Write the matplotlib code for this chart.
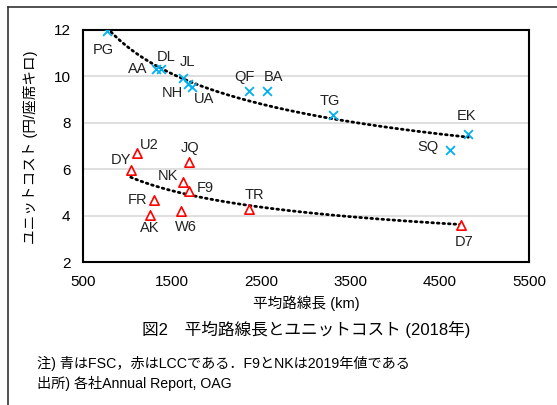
import numpy as np
import matplotlib
matplotlib.use("Agg")
import matplotlib.pyplot as plt
from matplotlib.lines import Line2D

plt.rcParams['font.family'] = ['Liberation Sans', 'Noto Sans CJK JP']

# FSC (blue)
fsc_names = ["PG", "AA", "DL", "JL", "NH", "UA", "QF", "BA", "TG", "EK", "SQ"]
fsc_len = [772, 1320, 1370, 1618, 1681, 1718, 2364, 2559, 3306, 4819, 4614]
fsc_cost = [11.95, 10.3, 10.3, 9.92, 9.66, 9.56, 9.37, 9.37, 8.32, 7.53, 6.82]
fsc_off = [(-4, -19), (-18, 0), (6, 12), (5, 16), (-16, -9), (12, -12),
           (-5, 14), (7, 14), (-4, 14), (-2, 18), (-22, 3)]

# LCC (red)
lcc_names = ["U2", "DY", "JQ", "NK", "F9", "FR", "AK", "W6", "TR", "D7"]
lcc_len = [1105, 1035, 1688, 1625, 1688, 1296, 1251, 1595, 2361, 4734]
lcc_cost = [6.68, 5.98, 6.3, 5.43, 5.04, 4.68, 4.03, 4.21, 4.28, 3.6]
lcc_off = [(12, 8), (-10, 10), (1, 14), (-15, 6), (16, 3), (-16, 0),
           (0, -13), (5, -16), (5, 14), (3, -17)]

blue = "#00B0F0"
red = "#FF0000"

fig = plt.figure(figsize=(5.57, 4.05), dpi=100)
ax = fig.add_axes([0.149, 0.353, 0.801, 0.573])


def power_fit(x, y):
    x = np.asarray(x, float)
    y = np.asarray(y, float)
    b, a = np.polyfit(np.log(x), np.log(y), 1)
    xs = np.linspace(x.min(), x.max(), 200)
    return xs, np.exp(a) * xs ** b


for xs, ys in [power_fit(fsc_len, fsc_cost), power_fit(lcc_len, lcc_cost)]:
    ax.plot(xs, ys, color="black", lw=2, ls=(0, (0.6, 1.4)),
            dash_capstyle="round", zorder=2)

ax.scatter(fsc_len, fsc_cost, marker="x", s=40, color=blue, lw=1.3, zorder=3)
ax.scatter(lcc_len, lcc_cost, marker="^", s=45, facecolor="white",
           edgecolor=red, lw=1.2, zorder=3)

for names, xs, ys, offs in [(fsc_names, fsc_len, fsc_cost, fsc_off),
                            (lcc_names, lcc_len, lcc_cost, lcc_off)]:
    for n, x, y, (dx, dy) in zip(names, xs, ys, offs):
        ax.annotate(n, (x, y), xytext=(dx, dy), textcoords="offset pixels",
                    ha="center", va="center", fontsize=10.5, color="#222222")

ax.set_xlim(500, 5500)
ax.set_ylim(2, 12)
ax.set_xticks(np.arange(500, 5501, 1000))
ax.set_yticks(np.arange(2, 13, 2))
ax.tick_params(length=0, labelsize=11, pad=9)
ax.grid(axis="y", color="#d9d9d9", lw=1.2)
ax.set_axisbelow(True)
for s in ax.spines.values():
    s.set_color("black")
    s.set_linewidth(1.5)

fig.text(0.055, 0.637, "ユニットコスト (円/座席キロ)", rotation=90,
         ha="center", va="center", fontsize=10.5)
fig.text(0.55, 1 - 303 / 405, "平均路線長 (km)", ha="center", va="center",
         fontsize=10.5)
fig.text(0.55, 1 - 329 / 405, "図2　平均路線長とユニットコスト (2018年)",
         ha="center", va="center", fontsize=12)
fig.text(37 / 557, 1 - 363 / 405, "注) 青はFSC，赤はLCCである．F9とNKは2019年値である",
         ha="left", va="center", fontsize=10.2)
fig.text(37 / 557, 1 - 383 / 405, "出所) 各社Annual Report, OAG",
         ha="left", va="center", fontsize=10.2)

# outer frame (top and left edges)
fig.add_artist(Line2D([8 / 557, 1], [1 - 7 / 405] * 2, color="#333333", lw=1.2,
                      transform=fig.transFigure))
fig.add_artist(Line2D([8 / 557] * 2, [0, 1 - 7 / 405], color="#333333", lw=1.2,
                      transform=fig.transFigure))

fig.savefig("out.png", dpi=100)
